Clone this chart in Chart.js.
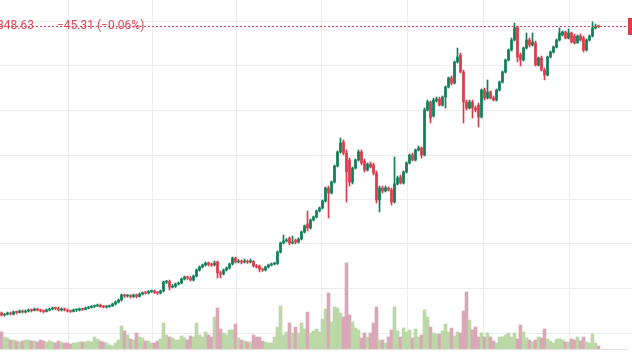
<!DOCTYPE html>
<html><head><meta charset="utf-8">
<script src="https://cdn.jsdelivr.net/npm/chart.js@4.4.1/dist/chart.umd.min.js"></script>
<style>html,body{margin:0;padding:0;background:#fff;overflow:hidden}#wrap{position:relative;width:632px;height:354px}</style>
</head><body><div id="wrap"><canvas id="c" width="632" height="354"></canvas></div>
<script>
const openP = [
18600,18200,18400,18600,18400,18800,18700,19000,18800,19000,
19200,19100,19400,19200,19000,18900,19200,19400,19600,19500,
19200,19400,19200,19000,18900,19200,19200,19400,19300,19600,
19700,19900,20000,20200,19900,19800,19900,20000,20400,20800,
21200,22200,22000,22100,21900,22200,21900,22400,22700,22600,
22900,23000,22700,22600,23000,24800,24900,23800,23900,24400,
24600,25400,25800,25600,25200,26000,27200,27800,28200,28600,
28300,28200,28800,26600,26400,27200,27600,28400,29600,28800,
29000,28800,29000,28800,28900,28000,28000,27400,27200,27800,
28200,28400,28500,30800,32600,33000,33600,32600,33200,32800,
33400,34800,36400,35600,37200,37800,39000,39600,41000,43600,
42600,44800,48000,50800,52800,50600,49200,44800,47600,49200,
50800,49000,47200,48400,48200,46600,41200,43600,43000,43600,
43200,40800,44400,45800,44600,46800,48600,50200,49200,51200,
51600,50200,59200,60800,58000,61000,61400,60200,61800,63800,
65600,64600,68800,70200,66800,60800,59600,60800,59600,60200,
57800,63200,61600,62800,61600,61200,63200,64800,66800,69200,
71200,73200,75800,70200,69200,71600,73200,72200,72600,68200,
69600,67200,66200,69800,70800,71800,73200,74200,74800,73600,
74600,74000,72600,74000,73600,71200,73200,74000,75600,75893.94];
const highP = [
18800,18500,18800,18800,19000,19000,19200,19200,19200,19400,
19400,19600,19600,19400,19200,19400,19600,19800,19800,19800,
19600,19600,19400,19200,19400,19400,19600,19600,19800,19900,
20100,20200,20400,20400,20100,20100,20200,20600,21000,21400,
22400,22400,22300,22300,22400,22400,22600,22800,22900,23100,
23200,23200,22900,23200,25000,25100,25200,24300,24600,24800,
25600,26000,26000,25900,26200,27400,28000,28400,28800,28800,
28600,29000,29000,27000,27400,27800,28600,29800,29800,29300,
29200,29400,29200,29400,29100,28300,28200,27600,28000,28400,
28600,28700,31000,32800,34200,33500,33800,34000,33400,33600,
35000,36200,39000,37400,38000,39200,39800,41200,43800,44000,
45000,48200,51000,53600,53200,51200,49600,47800,49400,51200,
51200,49400,48600,48800,48600,47000,44000,44000,44000,43800,
43600,49800,46000,46200,47000,48800,50400,50600,51400,52000,
51800,59600,61200,61000,61600,61800,61800,62000,64000,65800,
66000,69000,71600,70600,67200,61200,61200,61200,60000,60600,
63400,63600,65200,63000,62000,63400,65000,67000,69400,71400,
73600,76600,76000,70600,71800,74600,73600,74600,73000,69800,
70000,67600,70000,71000,72000,73400,75600,75000,75000,75400,
74800,74400,74200,74400,74000,73400,74200,76800,76400,76200];
const lowP = [
18000,18000,18200,18200,18200,18400,18600,18600,18600,18800,
18800,19000,19000,18800,18600,18800,19000,19200,19200,19000,
19000,19000,18800,18700,18800,18900,19000,19100,19200,19400,
19600,19700,19900,19700,19600,19600,19700,19900,20200,20600,
21000,21700,21800,21600,21700,21600,21800,22200,22400,22400,
22700,22500,22300,22400,22800,24500,23200,23600,23700,24200,
24400,25200,25300,25000,25000,25800,27000,27600,28000,28000,
27900,28000,25600,25600,26200,27000,27400,28200,28600,28600,
28400,28600,28500,28600,27800,27600,26800,26900,27000,27600,
28000,28200,28300,30600,32400,32800,32200,32400,32400,32600,
33200,34600,35000,35400,37000,37600,38800,39400,40800,37600,
42400,44600,47800,50600,50200,40800,44000,44400,47400,49000,
48200,46800,47000,47600,46200,40600,38800,42600,42800,43000,
40200,40600,44200,44400,44400,46600,48400,49000,49000,51000,
49600,50000,59000,56600,57800,60800,60000,60000,59600,63600,
64200,64400,68600,66600,56600,59200,59400,57600,58800,55800,
57600,61200,61400,61400,61000,61000,63000,64600,66600,69000,
71000,73000,68800,68000,69000,71400,71800,72000,68000,68000,
67000,65200,66000,69600,70600,71600,73000,74000,73400,73400,
72600,72400,72600,73000,70800,71000,73000,73800,75400,75700];
const closeP = [
18200,18400,18600,18400,18800,18700,19000,18800,19000,19200,
19100,19400,19200,19000,18900,19200,19400,19600,19500,19200,
19400,19200,19000,18900,19200,19200,19400,19300,19600,19700,
19900,20000,20200,19900,19800,19900,20000,20400,20800,21200,
22200,22000,22100,21900,22200,21900,22400,22700,22600,22900,
23000,22700,22600,23000,24800,24900,23800,23900,24400,24600,
25400,25800,25600,25200,26000,27200,27800,28200,28600,28300,
28200,28600,26600,26400,27200,27600,28400,29600,28800,29000,
28800,29000,28800,28900,28000,27800,27400,27200,27800,28200,
28400,28500,30800,32600,33000,33200,32600,32800,32800,33400,
34800,36000,35600,37200,37800,39000,39600,41000,43600,42600,
44800,48000,50800,52600,50600,46800,44800,47600,49200,50800,
48600,47200,48400,47800,46600,41200,43600,43000,43600,43200,
40800,44400,45600,44600,46800,48600,50200,49200,51200,51600,
50200,59200,60800,57600,61200,61400,60200,61800,63800,65600,
64600,68800,69800,66800,60800,59600,60800,59600,59200,57800,
63200,61600,62800,61600,61200,63200,64800,66800,69200,71200,
73200,75600,69800,69200,71600,73200,72200,72800,68200,69600,
67200,66200,69800,70800,71800,73200,74600,74800,73600,74600,
72800,72600,74000,73200,71200,73200,74000,75600,75893.94,75848.63];
const volume = [
17,12,11,9,9,8,7,8,9,9,
8,8,7,9,8,7,8,7,6,8,
7,6,6,5,6,6,7,7,7,8,
7,12,10,8,7,6,4,3,6,9,
23,18,14,10,9,16,12,11,8,8,
6,6,8,10,26,14,12,11,9,9,
13,11,9,13,12,26,14,12,17,14,
12,32,41,20,16,14,19,19,25,11,
9,8,7,7,14,12,12,8,7,6,
6,12,22,43,14,17,26,16,22,16,
26,20,37,16,18,20,17,30,40,56,
27,42,41,36,32,86,34,27,21,19,
11,16,12,16,26,42,9,9,6,12,
19,42,18,12,21,17,19,11,20,12,
14,39,32,22,16,15,15,18,25,17,
21,13,17,16,38,57,29,19,22,12,
16,12,16,12,8,6,12,12,14,16,
12,16,10,24,17,11,9,7,9,12,
11,20,10,8,6,10,10,9,7,7,
10,9,12,8,12,7,6,15,6,3];
const timeGridTicks = [22.2, 50.2, 78.5, 106.8, 135.2, 160.5, 189.2];
const priceGridTicks = [14600, 23500, 32400, 41300, 50200, 59100, 68000, 76900];
const lastPriceText = '75,848.63';
const changeText = '\u221245.31 (\u22120.06%)';

const UP = '#127e57', DOWN = '#dc3b4b';
const VOL_UP = '#bcd8a8', VOL_DOWN = '#d9a8b6';
const GRID = '#ececec';

const idx = closeP.map((_, i) => i);
const isUp = idx.map(i => closeP[i] >= openP[i]);

const priceLine = {
  id: 'priceLine',
  afterDatasetsDraw(chart) {
    const {ctx, chartArea, scales} = chart;
    const y = Math.floor(scales.y.getPixelForValue(closeP[closeP.length - 1])) + 0.5;
    ctx.save();
    ctx.strokeStyle = '#e04656';
    ctx.lineWidth = 1;
    ctx.setLineDash([2, 2]);
    ctx.beginPath(); ctx.moveTo(0, y); ctx.lineTo(chartArea.right, y); ctx.stroke();
    ctx.setLineDash([]);
    ctx.fillStyle = '#dc3b4b';
    ctx.fillRect(chartArea.right + 1, Math.round(y - 9), 12, 17);
    ctx.font = '12px Roboto, "Noto Sans", sans-serif';
    ctx.fillStyle = '#e04656';
    ctx.textBaseline = 'alphabetic';
    ctx.textAlign = 'right';
    ctx.fillText(lastPriceText, 34, 28.5);
    ctx.textAlign = 'left';
    ctx.fillText(changeText, 57, 28.5);
    ctx.restore();
  }
};

new Chart(document.getElementById('c'), {
  type: 'bar',
  data: {
    datasets: [
      {
        label: 'volume', yAxisID: 'y2', order: 3,
        data: idx.map(i => ({x: i, y: volume[i]})),
        backgroundColor: idx.map(i => isUp[i] ? VOL_UP : VOL_DOWN),
        barThickness: 3, grouped: false
      },
      {
        label: 'wick', yAxisID: 'y', order: 2,
        data: idx.map(i => ({x: i, y: [lowP[i], highP[i]]})),
        backgroundColor: idx.map(i => isUp[i] ? UP : DOWN),
        barThickness: 1, grouped: false
      },
      {
        label: 'body', yAxisID: 'y', order: 1,
        data: idx.map(i => ({x: i, y: [openP[i], closeP[i]]})),
        backgroundColor: idx.map(i => isUp[i] ? UP : DOWN),
        barThickness: 2, grouped: false, minBarLength: 1
      }
    ]
  },
  options: {
    responsive: false, animation: false, events: [],
    layout: {padding: 0},
    plugins: {legend: {display: false}, tooltip: {enabled: false}},
    scales: {
      x: {
        type: 'linear', min: -0.5, max: 208.5, offset: false,
        afterBuildTicks: s => { s.ticks = timeGridTicks.map(v => ({value: v})); },
        afterFit: s => { s.height = 5; },
        ticks: {display: false},
        grid: {color: GRID, drawTicks: false, offset: false},
        border: {display: true, color: '#e3e3e3'}
      },
      y: {
        position: 'right', min: 11400, max: 81200,
        afterBuildTicks: s => { s.ticks = priceGridTicks.map(v => ({value: v})); },
        afterFit: s => { s.width = 5; },
        ticks: {display: false},
        grid: {color: GRID, drawTicks: true, tickLength: 5},
        border: {display: false}
      },
      y2: {display: false, min: 0, max: 349, position: 'right'}
    }
  },
  plugins: [priceLine]
});
</script></body></html>
